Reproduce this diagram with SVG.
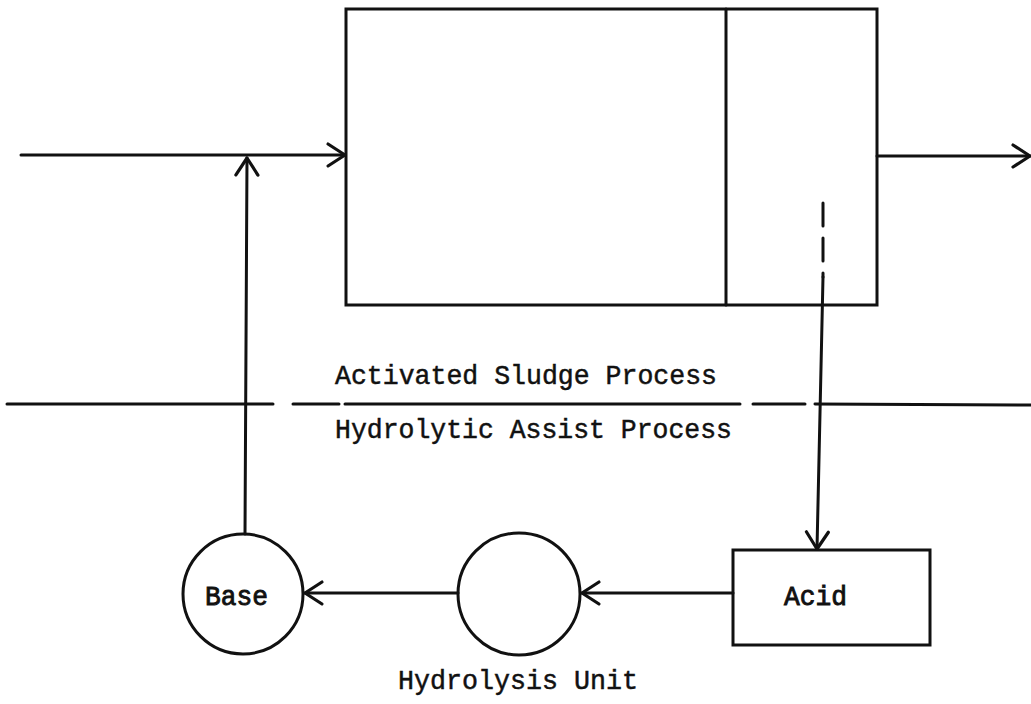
<svg xmlns="http://www.w3.org/2000/svg" width="1031" height="704" viewBox="0 0 1031 704">
<style>
.ln{fill:none;stroke:#111;stroke-width:3;stroke-linecap:round;stroke-linejoin:round}
.shape{fill:#fff;stroke:#111;stroke-width:3}
.tx{font-family:"Liberation Mono","Courier New",monospace;font-size:28px;fill:#111;stroke:#111;stroke-width:0.5}
.bd{stroke-width:0.9}
</style>
<defs>
<marker id="arr" markerUnits="userSpaceOnUse" markerWidth="30" markerHeight="30" viewBox="-20 -15 30 30" refX="0" refY="0" orient="auto">
<path d="M -17 -11 L 0 0 L -17 11" fill="none" stroke="#111" stroke-width="3.2" stroke-linecap="round" stroke-linejoin="round"/>
</marker>
</defs>
<rect width="1031" height="704" fill="#fff"/>
<g id="reactor">
<rect class="shape" x="346" y="9" width="531" height="296"/>
<line class="ln" x1="726" y1="9" x2="726" y2="305"/>
</g>
<g id="boundary">
<path class="ln" d="M 7 404 L 273 404 M 293 404 L 339 404 M 345 404 L 740 404 M 753 404 L 805 404 M 815 404 L 1031 405"/>
<text class="tx" x="335" y="384" textLength="382" lengthAdjust="spacingAndGlyphs">Activated Sludge Process</text>
<text class="tx" x="335" y="438" textLength="397" lengthAdjust="spacingAndGlyphs">Hydrolytic Assist Process</text>
</g>
<g id="acid">
<rect class="shape" x="733" y="550" width="197" height="95"/>
<text class="tx bd" x="784" y="605" textLength="63" lengthAdjust="spacingAndGlyphs">Acid</text>
</g>
<g id="hydrolysis">
<circle class="shape" cx="519" cy="594" r="61"/>
<text class="tx" x="398" y="689" textLength="240" lengthAdjust="spacingAndGlyphs">Hydrolysis Unit</text>
</g>
<g id="base">
<circle class="shape" cx="243" cy="594" r="60"/>
<text class="tx bd" x="205" y="605" textLength="63" lengthAdjust="spacingAndGlyphs">Base</text>
</g>
<g id="connectors">
<path class="ln" d="M 21 155 L 345 155" marker-end="url(#arr)"/>
<path class="ln" d="M 877 156 L 1030 156" marker-end="url(#arr)"/>
<path class="ln" d="M 245 534 L 247 158" marker-end="url(#arr)"/>
<path class="ln" d="M 823 203 L 823 277" stroke-dasharray="23 12" stroke-linecap="butt"/>
<path class="ln" d="M 823 277 L 817 549" marker-end="url(#arr)"/>
<path class="ln" d="M 733 593 L 582 593" marker-end="url(#arr)"/>
<path class="ln" d="M 458 593 L 305 593" marker-end="url(#arr)"/>
</g>
</svg>
